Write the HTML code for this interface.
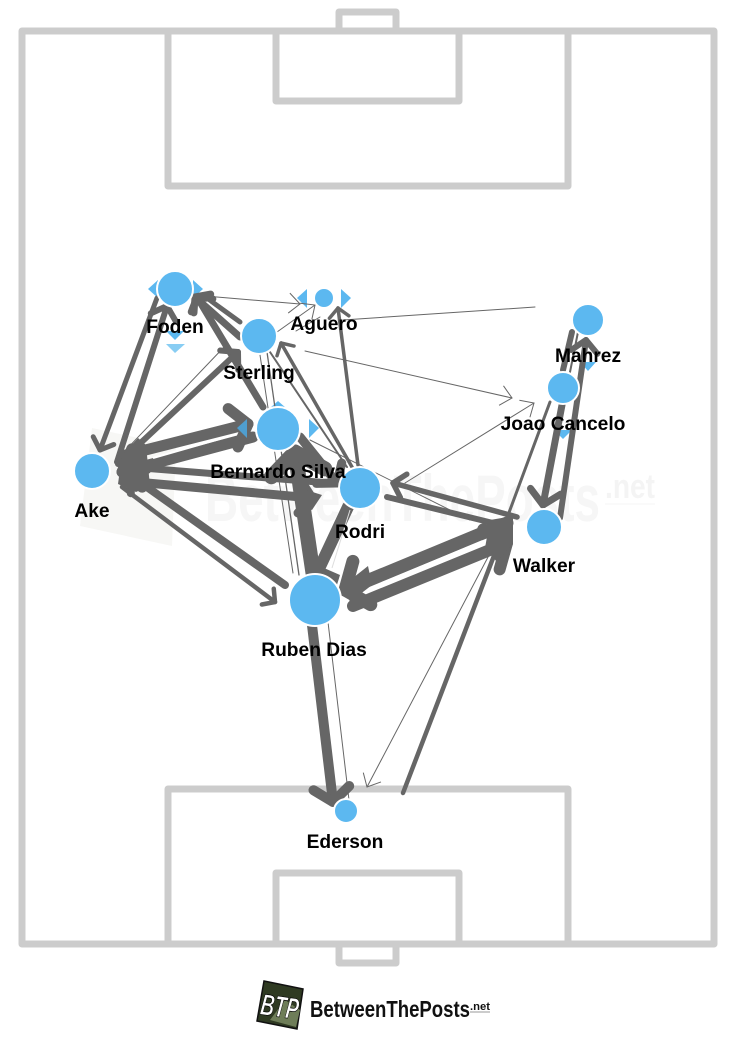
<!DOCTYPE html>
<html><head><meta charset="utf-8"><style>
html,body{margin:0;padding:0;background:#fff}
svg{display:block}
.l{font:bold 19.2px "Liberation Sans",sans-serif;fill:#000;text-anchor:middle}
.e{fill:none;stroke:#666;stroke-linecap:round;stroke-linejoin:round}
.p{fill:none;stroke:#ccc;stroke-width:7;stroke-linejoin:round}
</style></head><body>
<svg width="730" height="1041" viewBox="0 0 730 1041" xmlns="http://www.w3.org/2000/svg">
<defs>
<marker id="a" markerUnits="userSpaceOnUse" markerWidth="40" markerHeight="40" refX="20" refY="20" orient="auto" overflow="visible"><path d="M9,10 L20,20 L9,30" fill="none" stroke="#666" stroke-width="1"/></marker>
<marker id="b" markerUnits="strokeWidth" markerWidth="12" markerHeight="12" refX="6" refY="6" orient="auto" overflow="visible"><path d="M3.4,3.2 L6,6 L3.4,8.8" fill="none" stroke="#666" stroke-width="1" stroke-linecap="round" stroke-linejoin="round"/></marker>
<marker id="d" markerUnits="strokeWidth" markerWidth="12" markerHeight="12" refX="6" refY="6" orient="auto" overflow="visible"><path d="M4,3.8 L6,6 L4,8.2" fill="none" stroke="#666" stroke-width="1" stroke-linecap="round" stroke-linejoin="round"/></marker>
<marker id="c" markerUnits="strokeWidth" markerWidth="8" markerHeight="8" refX="4" refY="4" orient="auto" overflow="visible"><path d="M2.6,2.2 L4,4 L2.6,5.8" fill="none" stroke="#666" stroke-width="1" stroke-linecap="round" stroke-linejoin="round"/></marker>
</defs>
<!-- watermark -->
<path d="M92,428 L176,446 L172,546 L80,526 Z" fill="#f7f7f5"/>
<text x="205" y="521" font-family="Liberation Sans,sans-serif" font-weight="bold" font-size="66" fill="#f6f6f6" textLength="395" lengthAdjust="spacingAndGlyphs">BetweenThePosts</text>
<text x="605" y="498" font-family="Liberation Sans,sans-serif" font-weight="bold" font-size="34" fill="#f4f4f4" textLength="50" lengthAdjust="spacingAndGlyphs">.net</text>
<path d="M605,504 H655" stroke="#f4f4f4" stroke-width="1"/>
<!-- pitch -->
<rect class="p" x="22" y="31" width="692" height="913"/>
<rect class="p" x="168" y="31" width="400" height="155"/>
<rect class="p" x="276" y="31" width="183" height="70"/>
<rect class="p" x="339" y="12" width="57" height="19"/>
<rect class="p" x="168" y="789" width="400" height="155"/>
<rect class="p" x="276" y="873" width="183" height="71"/>
<rect class="p" x="339" y="944" width="57" height="19"/>
<!-- triangles -->
<g fill="#5cb8f0">
<path d="M148,289 L158,280 V298 Z"/><path d="M203,289 L193,280 V298 Z"/>
<path d="M166,331 H184 L175,340 Z"/>
<path d="M297,298 L307,289 V308 Z"/><path d="M351,298 L341,289 V308 Z"/>
<path d="M319,428 L309,419 V438 Z"/>
<path d="M270,408 L278,401 L286,408 Z"/>
<path d="M580,362 H596 L588,371 Z"/><path d="M554,430 H572 L563,439 Z"/>
</g>
<path d="M166,344 H185 L175,353 Z" fill="#88cdf3"/>
<!-- thin -->
<g class="e" stroke-width="1">
<path d="M205,296 L300,304" marker-end="url(#a)"/>
<path d="M277,332 L315,305" marker-end="url(#a)"/>
<path d="M296,331 L320,317"/>
<path d="M535,307 L343,320"/>
<path d="M305,351 L512,398" marker-end="url(#a)"/>
<path d="M405,483 L534,403" marker-end="url(#a)"/>
<path d="M497,540 L367,787" marker-end="url(#a)"/>
<path d="M120,456 L226,345"/>
<path d="M310,440 L470,520"/>
<path d="M349,800 L328,622"/>
<path d="M260,355 L293,573"/>
<path d="M267,352 L299,575" stroke-width="1.3"/>
</g>
<!-- medium -->
<g class="e">
<path d="M157,298 L100,450" stroke-width="5" marker-end="url(#d)"/>
<path d="M117,462 L167,306" stroke-width="6" marker-end="url(#d)"/>
<path d="M240,322 L204,296" stroke-width="5"/>
<path d="M240,337 L195,297" stroke-width="7" marker-end="url(#c)"/>
<path d="M263,407 L197,297" stroke-width="7" marker-end="url(#c)"/>
<path d="M118,464 L238,352" stroke-width="6" marker-end="url(#d)"/>
<path d="M358,465 L338,308" stroke-width="3.5" marker-end="url(#b)"/>
<path d="M352,467 L281,343" stroke-width="3.5" marker-end="url(#b)"/>
<path d="M347,467 L270,352" stroke-width="2"/>
<path d="M517,517 L393,483" stroke-width="5.5" marker-end="url(#d)"/>
<path d="M387,497 L493,523" stroke-width="6"/>
<path d="M562,405 L543,505" stroke-width="7" marker-end="url(#d)"/>
<path d="M560,518 L586,340" stroke-width="6" marker-end="url(#d)"/>
<path d="M563,370 L572,332" stroke-width="6"/>
<path d="M578,332 L570,372" stroke-width="2"/>
<path d="M550,402 L507,518" stroke-width="3"/>
<path d="M403,793 L500,540" stroke-width="4.5"/>
<path d="M122,487 L275,602" stroke-width="4.5" marker-end="url(#d)"/>
<path d="M285,585 L130,475" stroke-width="8" marker-end="url(#c)"/>
<path d="M147,483 L312,498" stroke-width="9" marker-end="url(#c)"/>
<path d="M330,483 L130,467" stroke-width="7" marker-end="url(#c)"/>
<path d="M300,437 L337,483" stroke-width="9" marker-end="url(#c)"/>
<path d="M312,625 L333,802" stroke-width="10" marker-end="url(#c)"/>
</g>
<!-- thick -->
<g class="e">
<path d="M122,456 L248,424" stroke-width="11" marker-end="url(#c)"/>
<path d="M253,437 L122,472" stroke-width="11" marker-end="url(#c)"/>
<path d="M313,573 L295,452" stroke-width="15" marker-end="url(#c)"/>
<path d="M317,573 L348,507" stroke-width="12"/>
<path d="M507,523 L345,590" stroke-width="13" marker-end="url(#c)"/>
<path d="M353,606 L507,543" stroke-width="12" marker-end="url(#c)"/>
</g>
<!-- blobs -->
<g fill="#666">
<path d="M122,455 L138,438 L146,445 L150,486 L136,492 L118,484 Z"/>
<path d="M490,520 L513,516 L513,543 L497,562 L485,548 Z"/>
<path d="M344,585 L368,566 L372,585 L350,602 Z"/>
<path d="M324,568 L340,575 L336,588 L322,580 Z"/>
<path d="M300,488 L322,495 L312,510 L296,505 Z"/>
</g>
<path d="M332,568 L350,510" stroke="#ddd" stroke-width="1" fill="none"/>
<path d="M380,585 L483,542" stroke="#fff" stroke-width="4" fill="none"/>
<path d="M153,458 L223,438" stroke="#fff" stroke-width="2" fill="none"/>
<path d="M207,302 L238,326" stroke="#fff" stroke-width="1.5" fill="none"/>
<!-- nodes -->
<g fill="#5cb8f0" stroke="#fff" stroke-width="2">
<circle cx="175" cy="289" r="18"/>
<circle cx="324" cy="298" r="10"/>
<circle cx="259" cy="336" r="18"/>
<circle cx="588" cy="320" r="16"/>
<circle cx="563" cy="388" r="16"/>
<circle cx="278" cy="429" r="22"/>
<circle cx="360" cy="488" r="21"/>
<circle cx="92" cy="471" r="18"/>
<circle cx="544" cy="527" r="18"/>
<circle cx="315" cy="600" r="26"/>
<circle cx="346" cy="811" r="12"/>
</g>
<path d="M237,428 L247,419 V438 Z" fill="#4f9fd0"/>
<!-- labels -->
<text class="l" x="175" y="333">Foden</text>
<text class="l" x="324" y="330">Aguero</text>
<text class="l" x="259" y="379">Sterling</text>
<text class="l" x="588" y="362">Mahrez</text>
<text class="l" x="563" y="430">Joao Cancelo</text>
<text class="l" x="278" y="478">Bernardo Silva</text>
<text class="l" x="360" y="538">Rodri</text>
<text class="l" x="92" y="517">Ake</text>
<text class="l" x="544" y="572">Walker</text>
<text class="l" x="314" y="656">Ruben Dias</text>
<text class="l" x="345" y="848">Ederson</text>
<!-- bottom logo -->
<path d="M264,981 L303,989 L297,1029 L257,1021 Z" fill="#2f3a22" stroke="#111" stroke-width="1.5"/>
<path d="M285,1000 L300,1010 L296,1027 L270,1020 Z" fill="#6e7d58"/>
<text x="261" y="1017" transform="rotate(8 280 1005)" font-family="Liberation Sans,sans-serif" font-weight="bold" font-style="italic" font-size="30" fill="#fff" stroke="#000" stroke-width="0.7" textLength="38" lengthAdjust="spacingAndGlyphs">BTP</text>
<text x="310" y="1017" font-family="Liberation Sans,sans-serif" font-weight="bold" font-size="23" fill="#111" textLength="160" lengthAdjust="spacingAndGlyphs">BetweenThePosts</text>
<text x="470" y="1010" font-family="Liberation Sans,sans-serif" font-weight="bold" font-size="11" fill="#111" textLength="20" lengthAdjust="spacingAndGlyphs">.net</text>
<path d="M470,1012 H490" stroke="#999" stroke-width="1"/>
</svg>
</body></html>
